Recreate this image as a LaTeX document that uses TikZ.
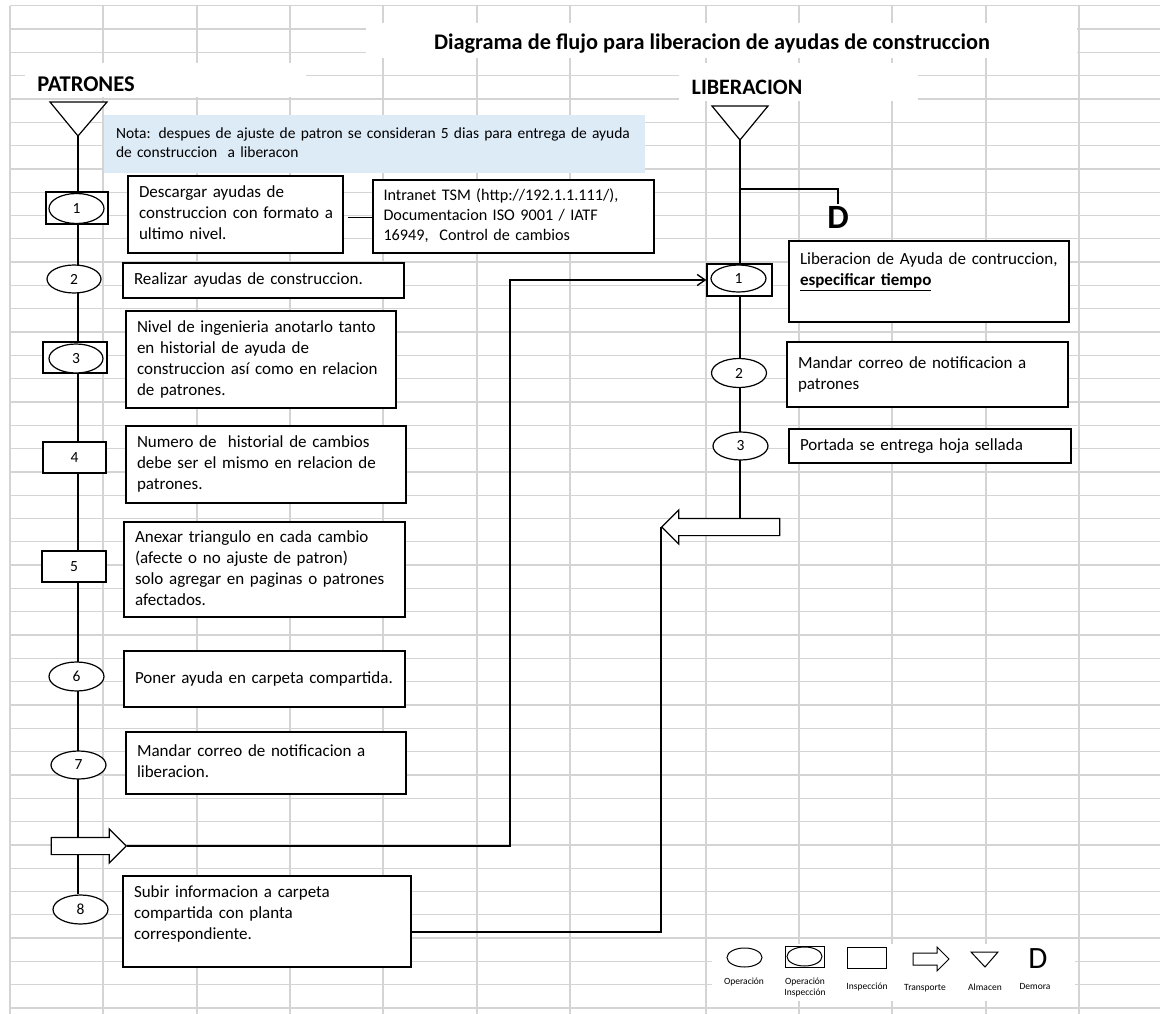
\documentclass[tikz,border=0pt]{standalone}
\usepackage{fontspec}
\setmainfont{Carlito}
\usetikzlibrary{shapes.geometric,shapes.arrows,arrows.meta,calc}
\pgfdeclarelayer{gridl}
\pgfdeclarelayer{lines}
\pgfsetlayers{gridl,lines,main}
\definecolor{gridc}{RGB}{212,212,212}
\definecolor{notec}{RGB}{221,235,247}
\newcommand\ml[1]{\begin{tabular}{@{}l@{}}#1\end{tabular}}
\begin{document}
\begin{tikzpicture}[x=1pt,y=-1pt,
 grd/.style={draw=gridc,line width=1.3pt},
 ln/.style={line width=1.4pt,draw=black},
 txt/.style={draw,fill=white,line width=1.2pt,inner xsep=11pt,inner ysep=0pt,align=left,font=\fontsize{17}{21}\selectfont},
 smalltxt/.style={font=\fontsize{15.5}{19.5}\selectfont},
 opel/.style={ellipse,draw,fill=white,line width=1.2pt,inner sep=0pt,font=\fontsize{15.5}{18}\selectfont},
 insp/.style={rectangle,draw,fill=white,line width=1.2pt,inner sep=0pt,font=\fontsize{15.5}{18}\selectfont},
 transp/.style={single arrow,draw,fill=white,line width=1.2pt,inner xsep=0pt,inner ysep=8pt,single arrow head extend=8.5pt},
 leg/.style={font=\fontsize{9.5}{11.5}\selectfont,align=center,inner sep=0pt},
 hdr/.style={font=\bfseries\fontsize{22.5}{26}\selectfont,inner sep=0pt},
 tri/.style={line width=1.2pt,draw=black,fill=white},
]
\useasboundingbox (0,0) rectangle (1160,1014);
% ---------- spreadsheet grid ----------
\begin{pgfonlayer}{gridl}
\fill[white] (0,0) rectangle (1160,1014);
\foreach \gx in {10,103,197,290,383,477,570,706,799,892,986,1079}
  {\draw[grd] (\gx,5.7) -- (\gx,1014);}
\foreach \k in {0,...,43}
  {\draw[grd] (10,{5.7+23.31*\k}) -- (1160,{5.7+23.31*\k});}
\fill[white] (366,23) rectangle (1077,58);
\fill[white] (25,63) rectangle (306,97);
\fill[white] (679,63) rectangle (918,101);
\fill[white] (712,944) rectangle (1075,1001);
\end{pgfonlayer}
% ---------- headings ----------
\node[font=\bfseries\fontsize{22.3}{26}\selectfont,inner sep=0pt] (title) at (712,44) {Diagrama de flujo para liberacion de ayudas de construccion};
\node[hdr] (hP) at (86,84) {PATRONES};
\node[hdr,font=\bfseries\fontsize{22}{26}\selectfont] (hL) at (747,87) {LIBERACION};
% ---------- storage triangles ----------
\coordinate (tP) at (78,136);
\draw[tri] (50,102) -- (107,102) -- (tP) -- cycle;
\coordinate (tL) at (740,140);
\draw[tri] (712,106) -- (768,106) -- (tL) -- cycle;
% ---------- note ----------
\node[fill=notec,minimum width=541pt,minimum height=58pt,text width=517pt,inner xsep=12pt,inner ysep=0pt,align=left,smalltxt] (note) at (374.5,144)
 {\ml{Nota: despues de ajuste de patron se consideran 5 dias para entrega de ayuda\\de construccion~ a liberacon}};
% ---------- PATRONES column ----------
\node[insp,minimum width=62pt,minimum height=32pt] (p1r) at (77,208) {};
\node[opel,minimum width=55pt,minimum height=30pt] (p1) at (76.5,208.5) {1};
\node[txt,minimum width=215pt,minimum height=77pt,text width=193pt] (desc) at (235.5,214.5)
 {\ml{Descargar ayudas de\\construccion con formato a\\ultimo nivel.}};
\node[txt,font=\fontsize{16.2}{20}\selectfont,inner xsep=10.5pt,minimum width=281pt,minimum height=73pt,text width=260pt] (intr) at (513.5,216.5)
 {\ml{Intranet TSM (http://192.1.1.111/),\\Documentacion ISO 9001 / IATF\\16949,~ Control de cambios}};
\node[opel,minimum width=54pt,minimum height=28pt] (p2) at (74,279) {2};
\node[txt,minimum width=281pt,minimum height=35pt,text width=259pt] (b2) at (263.5,280.5)
 {\ml{Realizar ayudas de construccion.}};
\node[insp,minimum width=64pt,minimum height=31pt] (p3r) at (75,357.5) {};
\node[opel,minimum width=54pt,minimum height=29pt] (p3) at (76,358.5) {3};
\node[txt,minimum width=270pt,minimum height=97pt,text width=248pt] (b3) at (261,359.5)
 {\ml{Nivel de ingenieria anotarlo tanto\\en historial de ayuda de\\construccion así como en relacion\\de patrones.}};
\node[insp,minimum width=63pt,minimum height=31pt] (p4) at (74.5,457.5) {4};
\node[txt,minimum width=280pt,minimum height=77pt,text width=258pt] (b4) at (266,464.5)
 {\ml{Numero de~ historial de cambios\\debe ser el mismo en relacion de\\patrones.}};
\node[insp,minimum width=64pt,minimum height=31pt] (p5) at (74,566.5) {5};
\node[txt,minimum width=281pt,minimum height=95pt,text width=259pt] (b5) at (264.5,569.5)
 {\ml{Anexar triangulo en cada cambio\\(afecte o no ajuste de patron)\\solo agregar en paginas o patrones\\afectados.}};
\node[opel,minimum width=55pt,minimum height=29pt] (p6) at (76.5,676.5) {6};
\node[txt,minimum width=281pt,minimum height=56pt,text width=259pt] (b6) at (264.5,679)
 {\ml{Poner ayuda en carpeta compartida.}};
\node[opel,minimum width=55pt,minimum height=28pt] (p7) at (78.5,765) {7};
\node[txt,minimum width=280pt,minimum height=62pt,text width=258pt] (b7) at (266,763)
 {\ml{Mandar correo de notificacion a\\liberacion.}};
\node[transp,minimum height=75pt] (aL) at (84.5,846) {};
\node[opel,minimum width=55pt,minimum height=29pt] (p8) at (80.5,909.5) {8};
\node[txt,minimum width=288pt,minimum height=91pt,text width=266pt] (b8) at (267,921.5)
 {\ml{Subir informacion a carpeta\\compartida con planta\\correspondiente.\\[-7pt]\mbox{}}};
% ---------- LIBERACION column ----------
\node[font=\bfseries\fontsize{34}{34}\selectfont,inner sep=2pt] (Dd) at (838,217) {D};
\node[insp,minimum width=65pt,minimum height=32pt] (q1r) at (739.5,280) {};
\node[opel,minimum width=55pt,minimum height=27pt] (q1) at (738.5,278.5) {1};
\node[txt,minimum width=280pt,minimum height=81pt,text width=258pt] (l1) at (929,281.5)
 {\ml{Liberacion de Ayuda de contruccion,\\\textbf{\underline{especificar tiempo}}\\\mbox{}}};
\node[opel,minimum width=55pt,minimum height=29pt] (q2) at (739,373) {2};
\node[txt,minimum width=281pt,minimum height=65pt,text width=259pt] (l2) at (927.5,374.5)
 {\ml{Mandar correo de notificacion a\\patrones}};
\node[opel,minimum width=55pt,minimum height=28pt] (q3) at (740.5,446) {3};
\node[txt,minimum width=282pt,minimum height=34pt,text width=260pt] (l3) at (930,446)
 {\ml{Portada se entrega hoja sellada}};
\node[transp,minimum height=118pt,shape border rotate=180] (aR) at (725,527) {};
% ---------- connectors ----------
\coordinate (dj) at (740,189);
\coordinate (cR) at (510,280);
\begin{pgfonlayer}{lines}
\draw[ln] (tP) -- (tP |- p8.north);
\draw[ln] (tL) -- (tL |- aR.center);
\draw[ln] (dj) -| (Dd.north);
\draw[ln,shorten <=4pt] ([yshift=-3pt]desc.east) -- ([yshift=-3pt]desc.east -| intr.west);
\draw[ln,-{Straight Barb[length=8pt,width=11pt]}] (aL.tip) -| (cR) -- (q1r.west);
\draw[ln] ([yshift=-10.5pt]b8.east) -| (aR.tip);
\end{pgfonlayer}
% ---------- legend ----------
\node[opel,line width=1pt,minimum width=35pt,minimum height=19pt] (gO) at (744.5,957.5) {};
\node[leg] (gOt) at (744,982) {Operación};
\node[insp,line width=1pt,minimum width=39pt,minimum height=21pt] (gOIr) at (804.5,956.5) {};
\node[opel,line width=1pt,minimum width=35pt,minimum height=19pt] (gOI) at (804.5,956.5) {};
\node[leg] (gOIt) at (805,987.5) {Operación\\Inspección};
\node[insp,line width=1pt,minimum width=39pt,minimum height=21pt] (gI) at (866.5,957.5) {};
\node[leg] (gIt) at (867,987) {Inspección};
\node[transp,line width=1pt,minimum height=36pt,inner ysep=5.5pt,single arrow head extend=6pt] (gT) at (928,959) {};
\node[leg] (gTt) at (925,988) {Transporte};
\coordinate (gA) at (985,967);
\draw[tri,line width=1pt] (971,952) -- (998,952) -- (gA) -- cycle;
\node[leg] (gAt) at (985,987) {Almacen};
\node[font=\fontsize{31}{31}\selectfont,inner sep=0pt] (gD) at (1038,959) {D};
\node[leg] (gDt) at (1035,986) {Demora};
\end{tikzpicture}
\end{document}
